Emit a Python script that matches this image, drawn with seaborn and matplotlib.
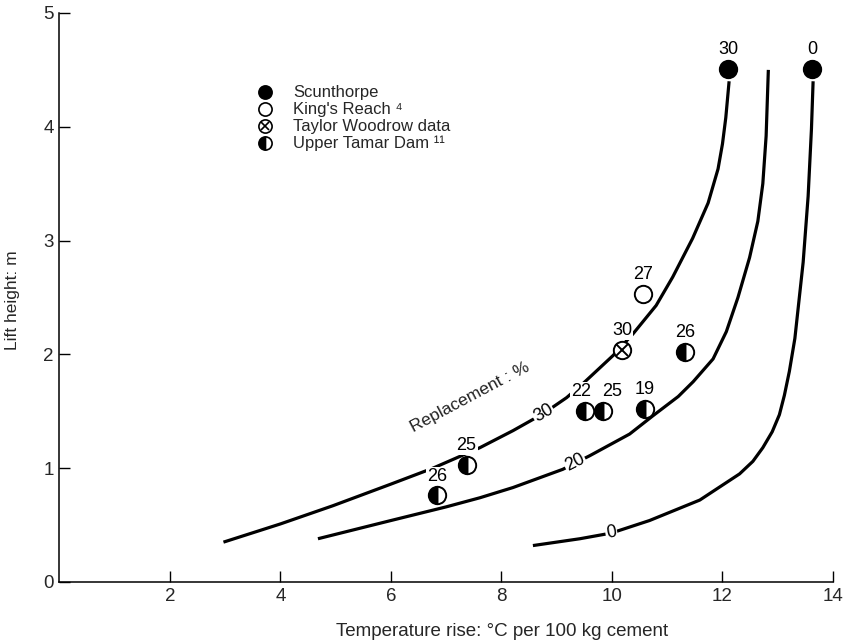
import numpy as np
import pandas as pd
import matplotlib
matplotlib.use("Agg")
import matplotlib.pyplot as plt
import seaborn as sns

# Design curves: lift height vs temperature rise for each replacement level (%)
curve30_x = [2.97, 4.0, 4.95, 6.0, 6.76, 7.61, 8.21, 8.76, 9.18, 9.49, 10.02, 10.38, 10.80, 11.10, 11.46, 11.74, 11.92, 12.00, 12.06, 12.12]
curve30_y = [0.35, 0.51, 0.67, 0.86, 1.00, 1.18, 1.33, 1.48, 1.62, 1.75, 1.99, 2.18, 2.43, 2.68, 3.02, 3.33, 3.63, 3.85, 4.08, 4.40]
curve20_x = [4.68, 6.0, 7.0, 7.61, 8.21, 9.11, 9.60, 10.32, 10.74, 11.20, 11.47, 11.83, 12.07, 12.28, 12.49, 12.64, 12.73, 12.79, 12.83]
curve20_y = [0.38, 0.54, 0.66, 0.74, 0.83, 0.99, 1.11, 1.30, 1.46, 1.63, 1.76, 1.96, 2.20, 2.50, 2.85, 3.17, 3.50, 3.92, 4.50]
curve0_x = [8.57, 9.42, 9.99, 10.68, 11.59, 12.31, 12.55, 12.73, 12.90, 13.03, 13.12, 13.21, 13.31, 13.46, 13.55, 13.61, 13.64]
curve0_y = [0.32, 0.38, 0.43, 0.54, 0.72, 0.95, 1.06, 1.18, 1.32, 1.47, 1.64, 1.85, 2.14, 2.81, 3.39, 3.98, 4.40]

# Curve labels (replacement %) and where they sit on each curve
curve_labels = ["30", "20", "0"]
curve_label_x = [8.76, 9.33, 9.99]
curve_label_y = [1.48, 1.05, 0.43]
curve_label_rot = [30, 27, 10]

# Site data: temperature rise, lift height, replacement %
scun_x = [12.10, 13.62]
scun_y = [4.51, 4.51]
scun_rep = [30, 0]
kings_x = [10.56]
kings_y = [2.53]
kings_rep = [27]
taylor_x = [10.19]
taylor_y = [2.04]
taylor_rep = [30]
tamar_x = [11.33, 9.51, 9.84, 10.59, 7.37, 6.84]
tamar_y = [2.02, 1.50, 1.50, 1.52, 1.03, 0.76]
tamar_rep = [26, 22, 25, 19, 25, 26]

legend_labels = ["Scunthorpe", "King's Reach \u2074", "Taylor Woodrow data", "Upper Tamar Dam \u00b9\u00b9"]

x_ticks = [2, 4, 6, 8, 10, 12, 14]
y_ticks = [0, 1, 2, 3, 4, 5]

sns.set_theme(style="ticks")
plt.rcParams["font.family"] = ["Liberation Sans", "DejaVu Sans"]

fig = plt.figure(figsize=(8.45, 6.43), dpi=100)
ax = fig.add_axes([0.0702, 0.0949, 0.9156, 0.8849])

curves = pd.concat([
    pd.DataFrame({"temp": curve30_x, "lift": curve30_y, "rep": "30"}),
    pd.DataFrame({"temp": curve20_x, "lift": curve20_y, "rep": "20"}),
    pd.DataFrame({"temp": curve0_x, "lift": curve0_y, "rep": "0"}),
])
sns.lineplot(data=curves, x="temp", y="lift", units="rep", estimator=None,
             sort=False, color="black", linewidth=2.3, ax=ax, legend=False,
             solid_capstyle="butt", solid_joinstyle="round")

txt_kw = dict(fontsize=13, color="black")
box = dict(boxstyle="square,pad=0.05", facecolor="white", edgecolor="none")

for lab, lx, ly, rot in zip(curve_labels, curve_label_x, curve_label_y, curve_label_rot):
    ax.text(lx, ly, lab, ha="center", va="center", rotation=rot,
            rotation_mode="anchor", bbox=box, zorder=4, **txt_kw)

ax.text(7.43, 1.62, "Replacement : %", ha="center", va="center", rotation=28,
        rotation_mode="anchor", fontsize=12.5, color="#222222", zorder=4)

ms = 12.5
mew = 1.4
ax.plot(scun_x, scun_y, "o", ms=ms, mfc="black", mec="black", mew=mew, zorder=5)
ax.plot(kings_x, kings_y, "o", ms=ms, mfc="white", mec="black", mew=mew, zorder=5)
ax.plot(taylor_x, taylor_y, "o", ms=ms, mfc="white", mec="black", mew=mew, zorder=5)
ax.plot(taylor_x, taylor_y, "x", ms=8.0, mec="black", mew=mew, zorder=6)
ax.plot(tamar_x, tamar_y, "o", ms=ms, fillstyle="left", mfc="black",
        markerfacecoloralt="white", mec="black", mew=mew, zorder=5, linestyle="none")

all_x = scun_x + kings_x + taylor_x + tamar_x
all_y = scun_y + kings_y + taylor_y + tamar_y
all_rep = scun_rep + kings_rep + taylor_rep + tamar_rep
# horizontal nudges (points) so neighbouring labels do not collide
label_dx = [0, 0, 0, 0, 0, -2.5, 6.5, 0, 0, 0]
for px, py, r, dx in zip(all_x, all_y, all_rep, label_dx):
    ax.annotate(str(r), (px, py), xytext=(dx, 14), textcoords="offset points",
                ha="center", va="center", bbox=box, zorder=4, **txt_kw)

# Key
key_y = [0.861, 0.831, 0.801, 0.771]
key_mx = 0.266
key_tx = 0.302
kms = 9.5
ax.plot([key_mx], [key_y[0]], "o", ms=kms, mfc="black", mec="black", mew=1.2, transform=ax.transAxes)
ax.plot([key_mx], [key_y[1]], "o", ms=kms, mfc="white", mec="black", mew=1.2, transform=ax.transAxes)
ax.plot([key_mx], [key_y[2]], "o", ms=kms, mfc="white", mec="black", mew=1.2, transform=ax.transAxes)
ax.plot([key_mx], [key_y[2]], "x", ms=6.0, mec="black", mew=1.2, transform=ax.transAxes)
ax.plot([key_mx], [key_y[3]], "o", ms=kms, fillstyle="left", mfc="black",
        markerfacecoloralt="white", mec="black", mew=1.2, transform=ax.transAxes)
for ky, lab in zip(key_y, legend_labels):
    ax.text(key_tx, ky, lab, ha="left", va="center", fontsize=12,
            transform=ax.transAxes)

ax.set_xlim(0, 14)
ax.set_ylim(0, 5)
ax.set_xticks(x_ticks)
ax.set_yticks(y_ticks)
ax.tick_params(direction="in", length=8, width=1, labelsize=13.5, pad=4, color="black")
for s in ["top", "right"]:
    ax.spines[s].set_visible(False)
for s in ["left", "bottom"]:
    ax.spines[s].set_linewidth(1.1)
    ax.spines[s].set_color("black")

ax.set_xlabel("Temperature rise: \u00b0C per 100 kg cement", fontsize=13.5)
ax.xaxis.set_label_coords(0.787, -0.072)
ax.xaxis.label.set_ha("right")
ax.set_ylabel("Lift height: m", fontsize=12.5)
ax.yaxis.set_label_coords(-0.051, 0.495)

fig.savefig("out.png", dpi=100, facecolor="white")
